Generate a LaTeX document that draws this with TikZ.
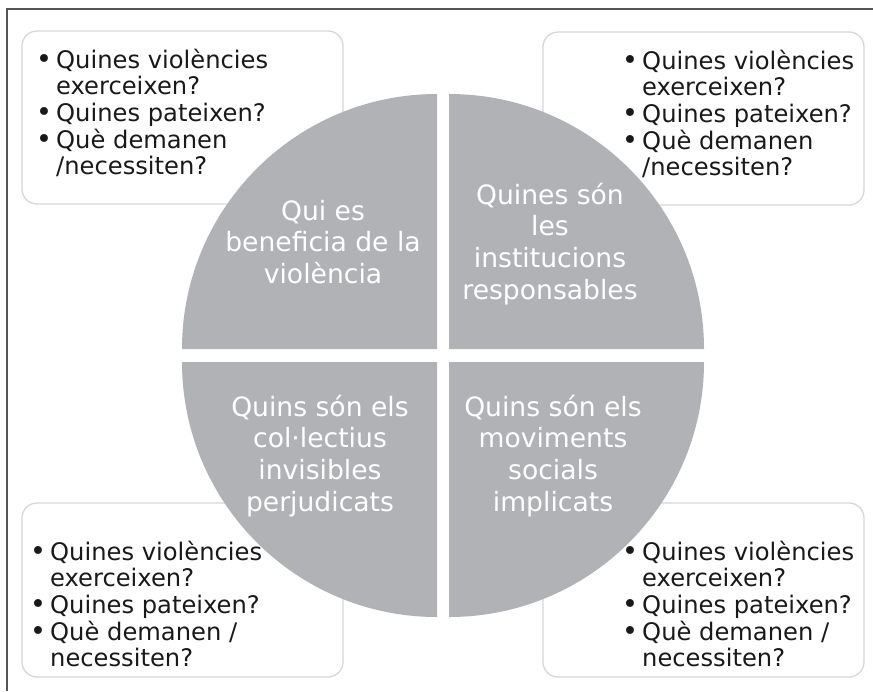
\documentclass[tikz,border=0pt]{standalone}
\usepackage{fontspec}
\setmainfont{DejaVu Sans}
\definecolor{quad}{RGB}{177,178,182}
\definecolor{boxline}{RGB}{215,215,215}
\definecolor{frame}{RGB}{85,85,85}
\definecolor{txt}{RGB}{25,25,25}
\newcommand{\bul}{\makebox[20pt][l]{\raisebox{-0.6pt}{\fontsize{27}{26.5}\selectfont•}}}
\begin{document}
\begin{tikzpicture}[x=1pt,y=-1pt,
  infobox/.style={draw=boxline,line width=1.3pt,rounded corners=15pt},
  quadfill/.style={fill=quad,draw=none},
  boxtext/.style={anchor=base west,inner sep=0pt,text=txt,font=\fontsize{24.2}{26.5}\selectfont},
  quadtext/.style={anchor=base,inner sep=0pt,text=white,font=\fontsize{26.6}{31.8}\selectfont}]
\useasboundingbox (0,0) rectangle (873,691);
\fill[white] (0,0) rectangle (873,691);
% outer frame (partly cropped)
\draw[frame,line width=1.6pt] (7,691) -- (7,9) -- (873,9);
% info boxes
\draw[infobox] (22,31) rectangle (343,204);
\draw[infobox] (543,32) rectangle (864,205);
\draw[infobox] (22,503) rectangle (343,677);
\draw[infobox] (543,503) rectangle (864,677);
% quadrants
\fill[quadfill] (437,349) -- (182,349) arc[start angle=180,end angle=270,radius=255] -- cycle;
\fill[quadfill] (449,349) -- (449,94) arc[start angle=270,end angle=360,radius=255] -- cycle;
\fill[quadfill] (437,362) -- (182,362) arc[start angle=180,end angle=90,radius=255] -- cycle;
\fill[quadfill] (449,362) -- (704,362) arc[start angle=0,end angle=90,radius=255] -- cycle;
% quadrant labels
\node[quadtext] (qtl) at (323,220) {\begin{tabular}[t]{@{}c@{}}Qui es\\beneficia de la\\violència\end{tabular}};
\node[quadtext] (qtr) at (550,204) {\begin{tabular}[t]{@{}c@{}}Quines són\\les\\institucions\\responsables\end{tabular}};
\node[quadtext] (qbl) at (320,416) {\begin{tabular}[t]{@{}c@{}}Quins són els\\col·lectius\\invisibles\\perjudicats\end{tabular}};
\node[quadtext] (qbr) at (553,416) {\begin{tabular}[t]{@{}c@{}}Quins són els\\moviments\\socials\\implicats\end{tabular}};
% box texts
\node[boxtext] (ttl) at (36,68) {\begin{tabular}[t]{@{}l@{}l@{}}\bul&Quines violències\\&exerceixen?\\\bul&Quines pateixen?\\\bul&Què demanen\\&/necessiten?\end{tabular}};
\node[boxtext] (ttr) at (622,69) {\begin{tabular}[t]{@{}l@{}l@{}}\bul&Quines violències\\&exerceixen?\\\bul&Quines pateixen?\\\bul&Què demanen\\&/necessiten?\end{tabular}};
\node[boxtext] (tbl) at (30,560) {\begin{tabular}[t]{@{}l@{}l@{}}\bul&Quines violències\\&exerceixen?\\\bul&Quines pateixen?\\\bul&Què demanen /\\&necessiten?\end{tabular}};
\node[boxtext] (tbr) at (622,560) {\begin{tabular}[t]{@{}l@{}l@{}}\bul&Quines violències\\&exerceixen?\\\bul&Quines pateixen?\\\bul&Què demanen /\\&necessiten?\end{tabular}};
\end{tikzpicture}
\end{document}
